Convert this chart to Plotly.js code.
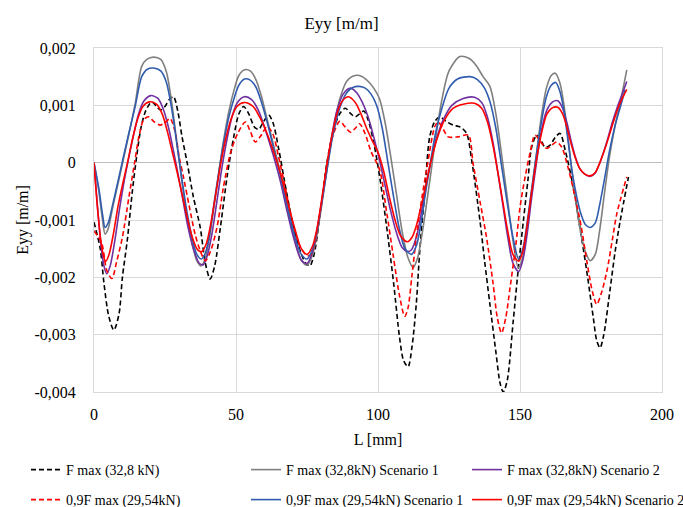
<!DOCTYPE html>
<html>
<head>
<meta charset="utf-8">
<script src="https://cdn.plot.ly/plotly-3.0.1.min.js"></script>
<style>html,body{margin:0;padding:0;background:#fff;}#chart{width:683px;height:507px;}</style>
</head>
<body>
<div id="chart"></div>
<script>
// ---- series names ----
const seriesNames = [
  "F max (32,8 kN)",
  "F max (32,8kN) Scenario 1",
  "F max (32,8kN) Scenario 2",
  "0,9F max (29,54kN)",
  "0,9F max (29,54kN) Scenario 1",
  "0,9F max (29,54kN) Scenario 2"
];

// ---- axis ticks ----
const xTickVals = [0, 50, 100, 150, 200];
const xTickText = ["0", "50", "100", "150", "200"];
const yTickVals = [0.002, 0.001, 0, -0.001, -0.002, -0.003, -0.004];
const yTickText = ["0,002", "0,001", "0", "-0,001", "-0,002", "-0,003", "-0,004"];

// ---- F max (32,8 kN) : black dashed ----
const fmaxL = [0,2.2,3.5,5.2,7,8.8,10,11.7,13.5,15,16.5,18,19.5,20.5,22,23.5,25,26.5,28,29.5,31,32.8,35,37.4,39.2,40.9,42.5,44.5,47,49.2,51,52.7,54.5,56.5,58,59.5,61.5,63,65,67,69.5,72,74.5,76,77.5,79.5,82,84.5,86.5,88.5,90.5,92,93.5,95,96.5,98.5,100.6,103,105.5,107.6,109,110.6,112,113.5,114.7,116.5,118.2,120,121.8,124,126.5,129,131.2,133,135.9,137.5,139.4,141.5,143,144.1,145.5,147.6,149.5,151.2,152.8,154.1,155.9,157.5,158.8,160.5,162.5,164.1,166,168.8,171,173.5,175.8,177,178.2,179.5,181.8,183.5,185.3,188.2];
const fmaxE = [-1.04e-3,-1.5e-3,-2.1e-3,-2.68e-3,-2.92e-3,-2.64e-3,-2.0e-3,-1.36e-3,-0.5e-3,0.1e-3,0.6e-3,0.88e-3,1.02e-3,1.06e-3,0.98e-3,0.92e-3,0.98e-3,1.1e-3,1.15e-3,0.9e-3,0.45e-3,0.0,-0.6e-3,-1.13e-3,-1.75e-3,-2.03e-3,-1.8e-3,-1.13e-3,-0.2e-3,0.45e-3,0.85e-3,0.98e-3,0.85e-3,0.62e-3,0.58e-3,0.7e-3,0.83e-3,0.7e-3,0.25e-3,-0.3e-3,-0.95e-3,-1.45e-3,-1.75e-3,-1.8e-3,-1.6e-3,-0.95e-3,0.0,0.6e-3,0.85e-3,0.95e-3,0.85e-3,0.8e-3,0.85e-3,0.9e-3,0.75e-3,0.35e-3,-0.25e-3,-1.1e-3,-2.1e-3,-3.05e-3,-3.45e-3,-3.56e-3,-3.2e-3,-2.45e-3,-1.54e-3,-0.5e-3,0.45e-3,0.72e-3,0.8e-3,0.72e-3,0.655e-3,0.62e-3,0.51e-3,0.04e-3,-1.01e-3,-1.7e-3,-2.47e-3,-3.3e-3,-3.85e-3,-4.0e-3,-3.8e-3,-2.77e-3,-1.8e-3,-1.01e-3,-0.3e-3,0.27e-3,0.48e-3,0.38e-3,0.27e-3,0.3e-3,0.45e-3,0.51e-3,0.2e-3,-0.43e-3,-1.1e-3,-1.89e-3,-2.7e-3,-3.1e-3,-3.23e-3,-3.0e-3,-2.18e-3,-1.55e-3,-1.01e-3,-0.25e-3];

// ---- F max (32,8kN) Scenario 1 : grey ----
const fmaxS1L = [0,1.7,3,3.9,5,6.5,8.3,10.1,12.3,14.5,16.8,18.6,21,23.5,25.5,27.5,29.3,31,32.7,34.5,36.2,37.6,39,40.5,42.3,44,45.5,47.5,49.5,51,53,55,57,59,61,63,65.5,68,70.5,73,75,77,78.5,80,81.8,84,86.5,89,91.9,94.5,96.5,98.5,100.5,102.5,104.5,106.5,108.5,110.5,112.4,114,115.5,117,118.7,120.5,122.5,125,128.8,132,134.5,137,139.4,141.5,143.5,145.5,147.5,149.4,151,152.5,154,155.8,157.5,159.3,161,162.4,164,165.5,167,168.5,170,171.5,173,174.7,176.5,178,179.7,181.5,183.5,185.5,187.6];
const fmaxS1E = [0,-0.5e-3,-1.0e-3,-1.245e-3,-1.15e-3,-0.8e-3,-0.4e-3,0,0.5e-3,1.03e-3,1.68e-3,1.8e-3,1.84e-3,1.8e-3,1.58e-3,1.0e-3,0.3e-3,-0.35e-3,-0.95e-3,-1.4e-3,-1.71e-3,-1.8e-3,-1.7e-3,-1.35e-3,-0.75e-3,-0.15e-3,0.35e-3,0.9e-3,1.3e-3,1.52e-3,1.62e-3,1.6e-3,1.45e-3,1.15e-3,0.75e-3,0.35e-3,-0.15e-3,-0.75e-3,-1.3e-3,-1.7e-3,-1.79e-3,-1.6e-3,-1.25e-3,-0.8e-3,-0.2e-3,0.5e-3,1.1e-3,1.42e-3,1.52e-3,1.5e-3,1.42e-3,1.3e-3,1.12e-3,0.7e-3,0.1e-3,-0.55e-3,-1.2e-3,-1.65e-3,-1.83e-3,-1.65e-3,-1.25e-3,-0.75e-3,-0.15e-3,0.5e-3,1.1e-3,1.6e-3,1.85e-3,1.82e-3,1.7e-3,1.5e-3,1.33e-3,0.85e-3,0.15e-3,-0.6e-3,-1.35e-3,-1.83e-3,-1.65e-3,-1.15e-3,-0.55e-3,0.15e-3,0.8e-3,1.3e-3,1.52e-3,1.56e-3,1.4e-3,1.0e-3,0.4e-3,-0.25e-3,-0.8e-3,-1.25e-3,-1.55e-3,-1.71e-3,-1.6e-3,-1.2e-3,-0.55e-3,0.1e-3,0.65e-3,1.1e-3,1.62e-3];

// ---- F max (32,8kN) Scenario 2 : purple ----
const fmaxS2L = [0,1.2,2.5,3.5,4.5,5.7,7.2,9,10.7,12.3,14,15.7,17.5,20,22.5,24.5,26.3,28,29.6,31.3,33,35,37,38.5,40,41.5,43.2,45,46.8,48.6,50.5,53,55.5,58,60.5,63,65.5,68,70.5,73,75,77,78.5,80,81.8,83.5,85.5,87.8,90.3,92.5,94.5,96.5,98.5,100.5,102.5,104.5,106.5,108.5,110.3,111.8,113.5,115,116.5,118.5,120.5,123,126,130,134,136.5,138.5,140.5,142.3,144,145.7,147.5,149.5,151,152.5,154,155.8,157.5,159.5,161.5,163.3,165,166.5,168,169.5,171,172.8,174.7,176.5,178.5,180.5,182.5,184.5,186,187.6];
const fmaxS2E = [0,-0.75e-3,-1.45e-3,-1.8e-3,-1.94e-3,-1.8e-3,-1.4e-3,-0.8e-3,-0.3e-3,0.1e-3,0.5e-3,0.85e-3,1.07e-3,1.17e-3,1.12e-3,0.92e-3,0.6e-3,0.2e-3,-0.2e-3,-0.65e-3,-1.1e-3,-1.5e-3,-1.75e-3,-1.78e-3,-1.6e-3,-1.25e-3,-0.7e-3,-0.1e-3,0.4e-3,0.8e-3,1.05e-3,1.15e-3,1.1e-3,0.9e-3,0.55e-3,0.15e-3,-0.3e-3,-0.85e-3,-1.35e-3,-1.7e-3,-1.76e-3,-1.55e-3,-1.2e-3,-0.75e-3,-0.15e-3,0.4e-3,0.9e-3,1.2e-3,1.3e-3,1.22e-3,1.05e-3,0.8e-3,0.45e-3,0.05e-3,-0.4e-3,-0.85e-3,-1.22e-3,-1.48e-3,-1.55e-3,-1.52e-3,-1.3e-3,-0.95e-3,-0.5e-3,0.0,0.4e-3,0.75e-3,1.0e-3,1.12e-3,1.14e-3,1.05e-3,0.8e-3,0.35e-3,-0.2e-3,-0.75e-3,-1.3e-3,-1.75e-3,-1.9e-3,-1.7e-3,-1.25e-3,-0.65e-3,0.0,0.55e-3,0.92e-3,1.06e-3,1.08e-3,0.95e-3,0.7e-3,0.38e-3,0.1e-3,-0.1e-3,-0.2e-3,-0.24e-3,-0.18e-3,0.05e-3,0.35e-3,0.7e-3,1.0e-3,1.2e-3,1.415e-3];

// ---- 0,9F max (29,54kN) : red dashed ----
const f09L = [0,2.7,4.5,6.3,8,10,12.3,14.3,16,17.5,19.2,21,23.3,25,26.8,28.5,30,31.5,33.5,35.6,37.5,39.2,41,43.3,45.5,48,50.5,53.3,55,56.8,58.5,61,63,65,67,69.5,72,74.5,76,77.5,79.5,82,84,86.5,88.5,90.3,92,93.5,95.5,97.5,100.6,103,105.3,107.5,109.4,110.5,112,113.5,115.5,117.1,120,121.2,123,124.7,128.2,131.8,133.5,136,138.2,140.5,142,143.5,145,146.5,148.5,150,151.8,153.5,155.3,157.5,159.4,161,162.9,164.7,167,169.4,171.5,173.5,175.5,177,178.5,180.6,182.5,184.1,187.6];
const f09E = [-1.19e-3,-1.4e-3,-1.88e-3,-2.02e-3,-1.72e-3,-1.3e-3,-0.6e-3,0.0,0.5e-3,0.75e-3,0.8e-3,0.72e-3,0.655e-3,0.7e-3,0.77e-3,0.55e-3,0.1e-3,-0.25e-3,-0.75e-3,-1.25e-3,-1.55e-3,-1.71e-3,-1.55e-3,-1.13e-3,-0.45e-3,0.16e-3,0.5e-3,0.71e-3,0.55e-3,0.36e-3,0.45e-3,0.63e-3,0.5e-3,0.1e-3,-0.35e-3,-0.95e-3,-1.4e-3,-1.6e-3,-1.62e-3,-1.45e-3,-0.9e-3,-0.05e-3,0.45e-3,0.72e-3,0.62e-3,0.53e-3,0.6e-3,0.68e-3,0.5e-3,0.2e-3,-0.13e-3,-0.85e-3,-1.6e-3,-2.3e-3,-2.68e-3,-2.55e-3,-1.95e-3,-1.3e-3,-0.6e-3,-0.13e-3,0.63e-3,0.71e-3,0.58e-3,0.45e-3,0.45e-3,0.48e-3,-0.02e-3,-0.7e-3,-1.3e-3,-2.1e-3,-2.7e-3,-2.97e-3,-2.7e-3,-2.18e-3,-1.45e-3,-0.78e-3,-0.25e-3,0.16e-3,0.48e-3,0.35e-3,0.25e-3,0.3e-3,0.36e-3,0.27e-3,-0.1e-3,-0.6e-3,-1.1e-3,-1.71e-3,-2.25e-3,-2.47e-3,-2.3e-3,-1.89e-3,-1.35e-3,-0.89e-3,-0.25e-3];

// ---- 0,9F max (29,54kN) Scenario 1 : blue ----
const f09S1L = [0,1.7,3,3.9,5,6.5,8.2,9.9,12.2,14.5,16.8,18.8,21,23.5,25.5,27.5,29.4,31,32.7,34.5,36.2,37.8,39.2,40.7,42.3,44,45.5,47.5,49.5,51,53,55,57,59,61,63,65.5,68,70.5,73,75,77,78.5,80,81.8,84,86.5,89,91.5,93.4,95.5,97.5,99.5,101.5,103.5,105.5,107.5,109.5,111.8,113.5,115,116.5,118.3,120.2,122.5,125,128,132.4,135,137.5,139.5,141.5,143.5,145.5,147.5,149.5,151,152.5,154,155.8,157.5,159.3,161,162.6,164,165.5,167,168.5,170,171.5,173,174.7,176.5,178,179.7,181.5,183.5,185.5,187];
const f09S1E = [0,-0.45e-3,-0.9e-3,-1.13e-3,-1.05e-3,-0.75e-3,-0.38e-3,0,0.5e-3,0.98e-3,1.5e-3,1.63e-3,1.65e-3,1.6e-3,1.4e-3,0.9e-3,0.25e-3,-0.3e-3,-0.85e-3,-1.3e-3,-1.6e-3,-1.68e-3,-1.58e-3,-1.25e-3,-0.7e-3,-0.15e-3,0.3e-3,0.8e-3,1.15e-3,1.35e-3,1.46e-3,1.44e-3,1.32e-3,1.05e-3,0.7e-3,0.3e-3,-0.2e-3,-0.75e-3,-1.25e-3,-1.6e-3,-1.68e-3,-1.5e-3,-1.18e-3,-0.75e-3,-0.2e-3,0.45e-3,0.95e-3,1.22e-3,1.32e-3,1.33e-3,1.3e-3,1.2e-3,1.0e-3,0.6e-3,0.0,-0.6e-3,-1.15e-3,-1.5e-3,-1.6e-3,-1.45e-3,-1.1e-3,-0.6e-3,-0.05e-3,0.5e-3,0.95e-3,1.3e-3,1.46e-3,1.5e-3,1.45e-3,1.3e-3,1.05e-3,0.6e-3,-0.05e-3,-0.7e-3,-1.3e-3,-1.68e-3,-1.5e-3,-1.05e-3,-0.5e-3,0.15e-3,0.7e-3,1.15e-3,1.35e-3,1.4e-3,1.25e-3,0.9e-3,0.35e-3,-0.2e-3,-0.6e-3,-0.9e-3,-1.08e-3,-1.13e-3,-1.05e-3,-0.75e-3,-0.3e-3,0.2e-3,0.65e-3,1.0e-3,1.27e-3];

// ---- 0,9F max (29,54kN) Scenario 2 : red ----
const f09S2L = [0,1.1,2.5,3.3,4.1,5.3,6.8,8.5,10.2,11.8,13.5,15.3,17.2,19.5,22,24,25.8,27.5,29.2,31,32.8,34.6,36.5,38,39.5,41,42.7,44.5,46.3,48.2,50.3,53,56,58.5,61,63.5,66,68.5,71,73,75,77,78.5,80,81.8,83.5,85.5,87.5,89.6,92,94,96,98,100,102,104,106,108,110.3,112,113.5,115,116.8,118.8,121,123.5,126.5,130,134,136.5,138.5,140.5,142.3,144,145.7,147.5,149.5,151,152.5,154,155.8,157.5,159.5,161.5,163.3,165,166.5,168,169.5,171,172.8,174.7,176.5,178.5,180.5,182.5,184.5,186,187.6];
const f09S2E = [0,-0.72e-3,-1.4e-3,-1.62e-3,-1.72e-3,-1.6e-3,-1.25e-3,-0.75e-3,-0.35e-3,0.0,0.4e-3,0.75e-3,0.98e-3,1.06e-3,1.02e-3,0.85e-3,0.55e-3,0.2e-3,-0.15e-3,-0.55e-3,-0.95e-3,-1.3e-3,-1.52e-3,-1.55e-3,-1.42e-3,-1.1e-3,-0.6e-3,-0.05e-3,0.4e-3,0.75e-3,0.98e-3,1.05e-3,0.98e-3,0.78e-3,0.5e-3,0.15e-3,-0.25e-3,-0.75e-3,-1.2e-3,-1.5e-3,-1.6e-3,-1.45e-3,-1.15e-3,-0.7e-3,-0.1e-3,0.4e-3,0.85e-3,1.08e-3,1.15e-3,1.05e-3,0.85e-3,0.6e-3,0.38e-3,0.18e-3,-0.15e-3,-0.6e-3,-1.0e-3,-1.28e-3,-1.38e-3,-1.3e-3,-1.1e-3,-0.8e-3,-0.4e-3,0.05e-3,0.45e-3,0.75e-3,0.95e-3,1.02e-3,1.035e-3,0.95e-3,0.72e-3,0.3e-3,-0.2e-3,-0.7e-3,-1.2e-3,-1.6e-3,-1.72e-3,-1.55e-3,-1.1e-3,-0.55e-3,0.05e-3,0.5e-3,0.85e-3,0.96e-3,0.965e-3,0.85e-3,0.62e-3,0.33e-3,0.08e-3,-0.1e-3,-0.2e-3,-0.23e-3,-0.17e-3,0.05e-3,0.33e-3,0.65e-3,0.95e-3,1.12e-3,1.28e-3];

const FONT = "Liberation Serif";

// plot area in pixels (for placing the legend grid)
const PL = 94, PR = 662, PT = 48, PB = 392;

// legend slot for each trace (one legend per entry so the 3x2 grid is exact)
const legendIds = ["legend", "legend2", "legend3", "legend4", "legend5", "legend6"];

function tr(i, x, y, color, dash) {
  return {
    type: "scatter", mode: "lines", name: seriesNames[i], x: x, y: y,
    line: {color: color, width: 1.6, dash: dash, shape: "spline", smoothing: 0.8},
    legend: legendIds[i], hoverinfo: "skip"
  };
}

const data = [
  tr(0, fmaxL, fmaxE, "#000000", "5px,3px"),
  tr(1, fmaxS1L, fmaxS1E, "#7f7f7f", "solid"),
  tr(2, fmaxS2L, fmaxS2E, "#7030A0", "solid"),
  tr(3, f09L, f09E, "#FF0000", "5px,3px"),
  tr(4, f09S1L, f09S1E, "#2F5CAE", "solid"),
  tr(5, f09S2L, f09S2E, "#FF0000", "solid")
];

function legendAt(px, py) {
  return {
    orientation: "v",
    xanchor: "left", yanchor: "middle",
    x: (px - PL) / (PR - PL), y: (PB - py) / (PB - PT),
    font: {family: FONT, size: 14, color: "#000"},
    bgcolor: "rgba(0,0,0,0)", itemwidth: 30, borderwidth: 0
  };
}

const layout = {
  width: 683, height: 507,
  margin: {l: PL, r: 683 - PR, t: PT, b: 507 - PB, autoexpand: false},
  paper_bgcolor: "#ffffff", plot_bgcolor: "#ffffff",
  font: {family: FONT, size: 16, color: "#000"},
  showlegend: true,
  title: {text: "Eyy [m/m]", font: {family: FONT, size: 17, color: "#000"},
          x: 0.5, xref: "container", y: 1 - 23/507, yref: "container", yanchor: "middle"},
  xaxis: {
    range: [0, 200], tickvals: xTickVals, ticktext: xTickText,
    showgrid: true, gridcolor: "#d9d9d9", gridwidth: 1,
    showline: true, mirror: true, linecolor: "#d9d9d9", linewidth: 1,
    zeroline: false, ticks: "", ticklabelstandoff: 8,
    tickfont: {family: FONT, size: 16, color: "#000"},
    title: {text: "L [mm]", font: {family: FONT, size: 16, color: "#000"}, standoff: 11},
    fixedrange: true
  },
  yaxis: {
    range: [-0.004, 0.002], tickvals: yTickVals, ticktext: yTickText,
    showgrid: true, gridcolor: "#d9d9d9", gridwidth: 1,
    showline: true, mirror: true, linecolor: "#d9d9d9", linewidth: 1,
    zeroline: true, zerolinecolor: "#bfbfbf", zerolinewidth: 1.3,
    ticks: "", ticklabelstandoff: 14,
    tickfont: {family: FONT, size: 16, color: "#000"},
    title: {text: "Eyy [m/m]", font: {family: FONT, size: 16, color: "#000"}, standoff: 1},
    fixedrange: true
  },
  legend: legendAt(26, 470),
  legend2: legendAt(246, 470),
  legend3: legendAt(467, 470),
  legend4: legendAt(26, 500),
  legend5: legendAt(246, 500),
  legend6: legendAt(467, 500)
};

Plotly.newPlot("chart", data, layout, {displayModeBar: false, staticPlot: true});
</script>
</body>
</html>
